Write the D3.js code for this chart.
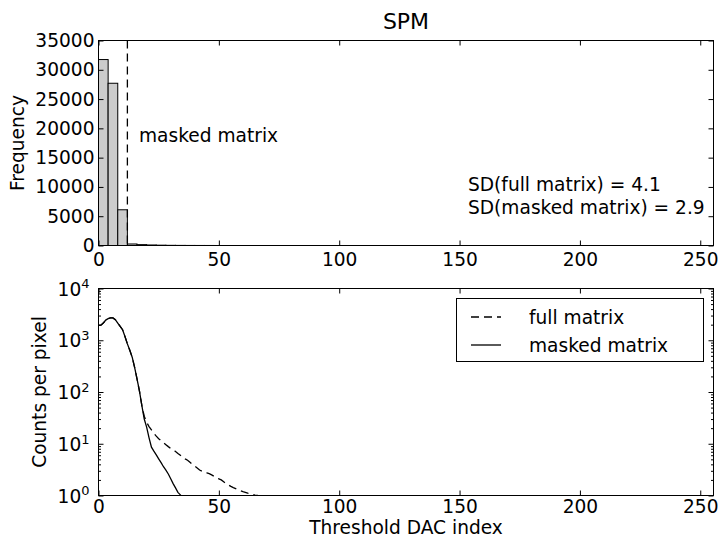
<!DOCTYPE html>
<html>
<head>
<meta charset="utf-8">
<script src="https://cdn.jsdelivr.net/npm/d3@7"></script>
<style>
  body { margin: 0; background: #fff; }
  text { font-family: "DejaVu Sans", sans-serif; fill: #000; }
</style>
</head>
<body>
<div id="viz"></div>
<script>
// ---- data ----
var histBinLeft = [0, 4, 8, 12, 16, 20, 24, 28, 32, 36, 40, 44];
var histCounts  = [31750, 27700, 6100, 260, 150, 90, 55, 30, 18, 10, 6, 4];
var binWidth = 4;
var maskLimit = 12;
var xTicks = [0, 50, 100, 150, 200, 250];
var freqTicks = [0, 5000, 10000, 15000, 20000, 25000, 30000, 35000];

var maskedCounts = [1930, 1950, 2150, 2450, 2620, 2700, 2700, 2500, 2150, 1850,
  1600, 1180, 850, 640, 470, 300, 180, 105, 55, 30,
  21, 13, 8.6, 7.2, 6.1, 5.1, 4.3, 3.6, 3.1, 2.6,
  2.1, 1.7, 1.4, 1.15, 1.03, 0.9];
var fullCounts = [1930, 1950, 2150, 2450, 2620, 2700, 2700, 2500, 2150, 1850,
  1600, 1180, 850, 640, 470, 300, 180, 105, 55, 34,
  26, 21.5, 18.5, 16, 14, 12.5, 11.5, 10.5, 9.6, 8.8,
  8.1, 7.6, 7.1, 6.5, 6.0, 5.5, 5.1, 4.8, 4.4, 4.0,
  3.7, 3.4, 3.1, 2.95, 2.85, 2.75, 2.65, 2.5, 2.35, 2.2,
  2.1, 2.0, 1.85, 1.7, 1.6, 1.5, 1.42, 1.36, 1.3, 1.24,
  1.19, 1.15, 1.11, 1.08, 1.05, 1.02, 1.0, 0.97];
var logMajor = [1, 10, 100, 1000, 10000];
var logMinor = [2,3,4,5,6,7,8,9, 20,30,40,50,60,70,80,90, 200,300,400,500,600,700,800,900,
  2000,3000,4000,5000,6000,7000,8000,9000];
var sdLines = ["SD(full matrix) = 4.1", "SD(masked matrix) = 2.9"];

// ---- layout ----
var canw = 721, canh = 540;
var left = 98.5, right = 713.5;
var top1 = 40.5, bot1 = 245.5;
var top2 = 288.5, bot2 = 495.5;
var fs = 18.6;

var svg = d3.select("#viz").append("svg")
  .attr("width", canw).attr("height", canh);

var x = d3.scaleLinear().domain([0, 255.5]).range([left, right]);
var y1 = d3.scaleLinear().domain([0, 35000]).range([bot1, top1]);
var y2 = d3.scaleLog().domain([1, 10000]).range([bot2, top2]);

function styleAxis(g){
  g.select(".domain").remove();
  g.selectAll("line").attr("stroke", "#000").attr("stroke-width", 1);
  g.selectAll("text").style("font-size", fs + "px").style("font-family", "DejaVu Sans, sans-serif");
}

// ---- top panel: histogram ----
svg.append("text").attr("x", (left + right) / 2).attr("y", 29)
  .attr("text-anchor", "middle").style("font-size", "22px").text("SPM");

svg.append("g").selectAll("rect").data(histCounts).enter().append("rect")
  .attr("x", function(d, i){ return x(histBinLeft[i]); })
  .attr("width", function(d, i){ return x(histBinLeft[i] + binWidth) - x(histBinLeft[i]); })
  .attr("y", function(d){ return y1(d); })
  .attr("height", function(d){ return bot1 - y1(d); })
  .attr("fill", "#cccccc").attr("stroke", "#000").attr("stroke-width", 1);

svg.append("line")
  .attr("x1", x(maskLimit)).attr("x2", x(maskLimit))
  .attr("y1", top1).attr("y2", bot1)
  .attr("stroke", "#000").attr("stroke-width", 1.3).attr("stroke-dasharray", "8,5");

svg.append("text").attr("x", 139).attr("y", 142).style("font-size", fs + "px").text("masked matrix");
svg.append("g").selectAll("text").data(sdLines).enter().append("text")
  .attr("x", 468).attr("y", function(d, i){ return 191 + i * 22.5; })
  .style("font-size", fs + "px").text(function(d){ return d; });

svg.append("g").attr("transform", "translate(0," + bot1 + ")")
  .call(d3.axisBottom(x).tickValues(xTicks).tickSize(-5).tickPadding(7).tickFormat(d3.format("d")))
  .call(styleAxis);
svg.append("g").attr("transform", "translate(0," + top1 + ")")
  .call(d3.axisBottom(x).tickValues(xTicks).tickSize(5).tickFormat(""))
  .call(styleAxis);
svg.append("g").attr("transform", "translate(" + left + ",0)")
  .call(d3.axisLeft(y1).tickValues(freqTicks).tickSize(-5).tickPadding(4).tickFormat(d3.format("d")))
  .call(styleAxis);
svg.append("g").attr("transform", "translate(" + right + ",0)")
  .call(d3.axisLeft(y1).tickValues(freqTicks).tickSize(5).tickFormat(""))
  .call(styleAxis);

svg.append("rect").attr("x", left).attr("y", top1)
  .attr("width", right - left).attr("height", bot1 - top1)
  .attr("fill", "none").attr("stroke", "#000").attr("stroke-width", 1);

svg.append("text").attr("transform", "translate(24," + (top1 + bot1) / 2 + ") rotate(-90)")
  .attr("text-anchor", "middle").style("font-size", fs + "px").text("Frequency");

// ---- bottom panel: log curves ----
svg.append("defs").append("clipPath").attr("id", "clip2").append("rect")
  .attr("x", left).attr("y", top2).attr("width", right - left).attr("height", bot2 - top2);

var line = d3.line()
  .x(function(d, i){ return x(i); })
  .y(function(d){ return y2(d); });

var curves = svg.append("g").attr("clip-path", "url(#clip2)");
curves.append("path").datum(fullCounts).attr("d", line)
  .attr("fill", "none").attr("stroke", "#000").attr("stroke-width", 1.3)
  .attr("stroke-dasharray", "8,5");
curves.append("path").datum(maskedCounts).attr("d", line)
  .attr("fill", "none").attr("stroke", "#000").attr("stroke-width", 1.3);

svg.append("g").attr("transform", "translate(0," + bot2 + ")")
  .call(d3.axisBottom(x).tickValues(xTicks).tickSize(-5).tickPadding(4).tickFormat(d3.format("d")))
  .call(styleAxis);
svg.append("g").attr("transform", "translate(0," + top2 + ")")
  .call(d3.axisBottom(x).tickValues(xTicks).tickSize(5).tickFormat(""))
  .call(styleAxis);

// log major ticks with 10^n labels
var yl = svg.append("g").attr("transform", "translate(" + left + ",0)")
  .call(d3.axisLeft(y2).tickValues(logMajor).tickSize(-5).tickPadding(9).tickFormat(""))
  .call(styleAxis);
yl.selectAll(".tick").append("text")
  .attr("x", -9).attr("dy", "0.35em").attr("text-anchor", "end")
  .style("font-size", fs + "px")
  .each(function(d){
    var t = d3.select(this);
    t.append("tspan").text("10");
    t.append("tspan").attr("dy", "-0.55em").style("font-size", "13px")
      .text(String(Math.round(Math.log10(d))));
  });
svg.append("g").attr("transform", "translate(" + left + ",0)")
  .call(d3.axisLeft(y2).tickValues(logMinor).tickSize(-2.5).tickFormat(""))
  .call(styleAxis);
svg.append("g").attr("transform", "translate(" + right + ",0)")
  .call(d3.axisLeft(y2).tickValues(logMajor).tickSize(5).tickFormat(""))
  .call(styleAxis);
svg.append("g").attr("transform", "translate(" + right + ",0)")
  .call(d3.axisLeft(y2).tickValues(logMinor).tickSize(2.5).tickFormat(""))
  .call(styleAxis);

svg.append("rect").attr("x", left).attr("y", top2)
  .attr("width", right - left).attr("height", bot2 - top2)
  .attr("fill", "none").attr("stroke", "#000").attr("stroke-width", 1);

svg.append("text").attr("transform", "translate(46," + (top2 + bot2) / 2 + ") rotate(-90)")
  .attr("text-anchor", "middle").style("font-size", fs + "px").text("Counts per pixel");
svg.append("text").attr("x", (left + right) / 2).attr("y", 534)
  .attr("text-anchor", "middle").style("font-size", fs + "px").text("Threshold DAC index");

// legend
var legend = svg.append("g");
legend.append("rect").attr("x", 456.5).attr("y", 298.5).attr("width", 247).attr("height", 63)
  .attr("fill", "#fff").attr("stroke", "#000").attr("stroke-width", 1);
var legItems = [{label: "full matrix", dash: "8,5"}, {label: "masked matrix", dash: null}];
legItems.forEach(function(it, i){
  var yy = 317 + i * 28;
  legend.append("line").attr("x1", 471).attr("x2", 501).attr("y1", yy).attr("y2", yy)
    .attr("stroke", "#000").attr("stroke-width", 1.3)
    .attr("stroke-dasharray", it.dash);
  legend.append("text").attr("x", 529).attr("y", yy + 6.5)
    .style("font-size", fs + "px").text(it.label);
});
</script>
</body>
</html>
